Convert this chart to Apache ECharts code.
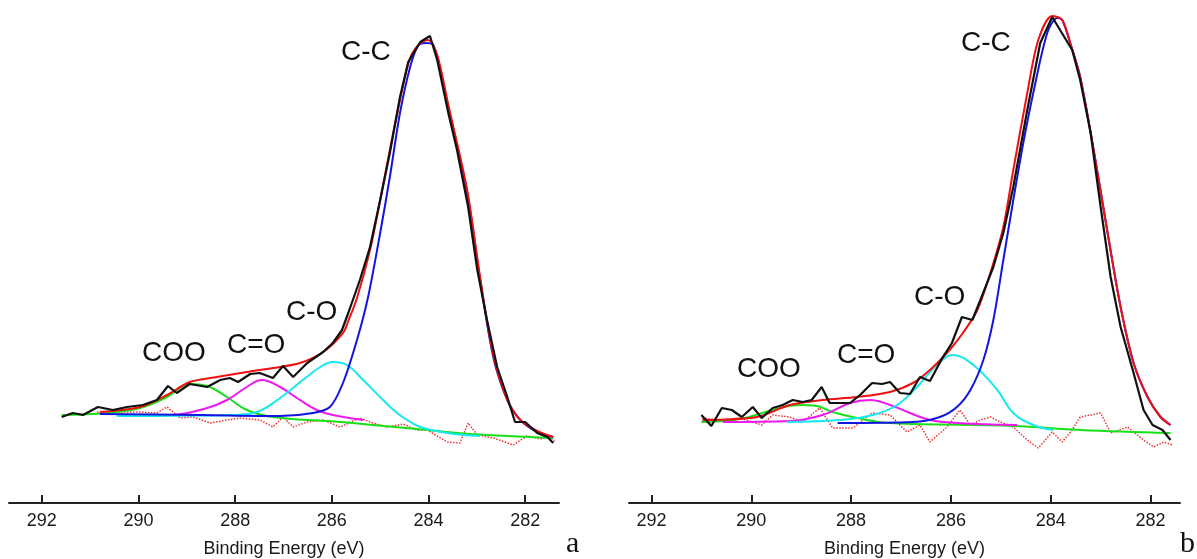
<!DOCTYPE html>
<html>
<head>
<meta charset="utf-8">
<script src="https://cdn.jsdelivr.net/npm/echarts@6/dist/echarts.min.js"></script>
<style>
  html, body { margin: 0; padding: 0; background: #fff; }
  #chart { width: 1197px; height: 559px; }
</style>
</head>
<body>
<div id="chart"></div>
<script>
// binding energy (eV), intensity (arb. units)
var tickValues = [282, 284, 286, 288, 290, 292];

// ---- panel a ----
var rawA = [[291.59,86],[291.36,90],[291.15,88],[290.84,96],[290.53,93],[290.24,96],[289.91,98],[289.62,103],[289.39,117],[289.21,110],[288.94,119],[288.58,116],[288.31,123],[288.11,125],[287.94,121],[287.69,129],[287.49,130],[287.22,125],[287.01,137],[286.80,126],[286.51,140],[286.18,151],[285.98,160],[285.79,173],[285.66,190],[285.42,223],[285.21,256],[285.00,303],[284.80,350],[284.59,406],[284.42,441],[284.17,461],[283.97,467],[283.82,443],[283.59,390],[283.41,353],[283.18,296],[282.99,233],[282.79,183],[282.58,136],[282.37,106],[282.21,81],[282.00,81],[281.75,70],[281.54,66],[281.42,60]];
var envA = [[290.80,91],[289.97,96],[289.41,108],[288.94,121],[288.38,126],[287.76,131],[287.22,135],[286.66,140],[286.18,151],[285.77,170],[285.66,182],[285.48,205],[285.21,253],[285.00,303],[284.80,353],[284.59,403],[284.38,445],[284.17,460],[284.01,463],[283.82,448],[283.59,398],[283.20,313],[282.93,225],[282.66,148],[282.37,103],[282.10,83],[281.75,72],[281.42,66]];
var ccA = [[290.80,89],[288.73,88],[287.07,87],[286.39,90],[286.04,96],[285.77,120],[285.48,163],[285.25,206],[285.00,270],[284.80,326],[284.59,390],[284.38,436],[284.22,457],[284.07,460],[283.90,458],[283.61,400],[283.20,310],[282.93,223],[282.66,146],[282.37,103],[282.10,83],[281.75,71],[281.42,66]];
var coA = [[290.45,87],[288.05,88],[287.55,91],[287.07,105],[286.60,123],[286.24,136],[285.98,141],[285.69,138],[285.35,123],[284.94,103],[284.65,90],[284.44,83],[284.17,76],[283.61,70],[282.93,67]];
var c2oA = [[290.24,87],[289.29,88],[288.58,95],[288.17,103],[287.76,116],[287.45,123],[287.07,116],[286.66,103],[286.31,93],[285.98,88],[285.35,83]];
var cooA = [[291.59,88],[290.65,90],[289.97,95],[289.41,106],[288.94,119],[288.58,117],[288.17,106],[287.76,93],[287.22,86],[285.83,81],[285.15,78],[284.24,74],[283.14,69],[281.42,65]];
var resA = [[290.86,91],[289.97,91],[289.62,90],[289.41,96],[289.14,85],[288.87,86],[288.52,80],[288.17,83],[287.90,85],[287.49,83],[287.22,76],[287.01,86],[286.80,76],[286.51,81],[286.18,83],[285.83,76],[285.42,85],[285.15,80],[284.86,76],[284.53,79],[284.24,73],[284.03,73],[283.61,61],[283.35,60],[283.18,80],[282.99,68],[282.66,65],[282.25,58],[281.96,67],[281.69,64],[281.48,66],[281.38,61]];

// ---- panel b ----
var rawB = [[291.00,88],[290.80,77],[290.59,95],[290.39,93],[290.19,86],[289.97,96],[289.79,85],[289.57,95],[289.37,98],[289.17,103],[288.97,101],[288.79,103],[288.59,116],[288.43,100],[288.02,100],[287.82,108],[287.58,120],[287.38,119],[287.22,121],[287.02,110],[286.82,109],[286.62,126],[286.42,122],[286.16,146],[285.98,160],[285.78,186],[285.57,183],[285.41,203],[285.15,236],[284.95,270],[284.75,316],[284.47,393],[284.21,460],[283.97,486],[283.57,453],[283.41,423],[283.20,370],[283.00,296],[282.80,226],[282.60,176],[282.34,130],[282.14,93],[281.96,78],[281.76,73],[281.60,63]];
var envB = [[290.98,83],[289.89,86],[289.23,98],[288.57,103],[287.88,106],[287.22,111],[286.76,120],[286.42,133],[286.08,150],[285.76,170],[285.47,193],[285.21,230],[284.95,276],[284.75,333],[284.47,410],[284.25,463],[283.97,487],[283.77,483],[283.61,460],[283.41,426],[283.14,353],[282.86,270],[282.60,196],[282.34,140],[282.06,106],[281.80,86],[281.60,78]];
var ccB = [[288.27,80],[286.76,81],[286.22,86],[285.88,96],[285.61,113],[285.35,143],[285.15,183],[284.95,243],[284.75,303],[284.55,360],[284.35,410],[284.07,470],[283.87,485],[283.77,483],[283.61,460],[283.41,426],[283.14,353],[282.86,270],[282.60,196],[282.34,140],[282.06,106],[281.80,86],[281.60,78]];
var coB = [[289.29,81],[288.22,83],[287.56,88],[287.08,98],[286.68,116],[286.28,138],[285.96,148],[285.55,138],[285.07,113],[284.75,90],[284.35,78],[283.95,73]];
var c2oB = [[290.57,81],[289.23,82],[288.57,88],[288.02,100],[287.62,103],[287.22,98],[286.82,90],[286.42,83],[285.88,80],[284.67,78]];
var cooB = [[291.00,81],[290.23,84],[289.57,93],[289.03,98],[288.69,97],[288.37,91],[287.88,85],[287.22,80],[284.75,77],[283.41,73],[281.60,70]];
var resB = [[290.98,85],[290.63,83],[290.23,85],[289.79,78],[289.57,88],[289.23,86],[288.97,81],[288.63,95],[288.37,75],[287.96,75],[287.58,90],[287.22,88],[286.88,71],[286.62,78],[286.42,61],[286.08,76],[285.82,93],[285.61,78],[285.41,83],[285.21,86],[285.01,81],[284.75,76],[284.47,63],[284.25,55],[283.97,71],[283.77,61],[283.57,73],[283.41,86],[283.00,90],[282.80,70],[282.46,76],[282.14,63],[281.94,56],[281.74,61],[281.56,58]];

var FONT = '"Liberation Sans", Arial, sans-serif';

function xAxisFor(idx, min, max) {
    return {
        type: 'value',
        gridIndex: idx,
        inverse: true,
        min: min,
        max: max,
        name: 'Binding Energy (eV)',
        nameLocation: 'middle',
        nameGap: 37,
        nameTextStyle: { fontFamily: FONT, fontSize: 18, color: '#1a1a1a' },
        axisLine: { show: true, lineStyle: { color: '#222', width: 2 } },
        axisTick: { show: true, inside: true, length: 8, customValues: tickValues, lineStyle: { color: '#222', width: 2 } },
        axisLabel: { customValues: tickValues, fontFamily: FONT, fontSize: 18, color: '#1a1a1a', margin: 9 },
        splitLine: { show: false }
    };
}

function yAxisFor(idx) {
    return { type: 'value', gridIndex: idx, min: 0, max: 503, show: false };
}

function line(name, data, idx, color, width, smooth, dotted) {
    return {
        name: name,
        type: 'line',
        xAxisIndex: idx,
        yAxisIndex: idx,
        data: data,
        symbol: 'none',
        smooth: smooth,
        lineStyle: { color: color, width: width, type: dotted ? 'dotted' : 'solid' },
        z: 2
    };
}

function panelSeries(idx, raw, env, cc, co, c2o, coo, res) {
    return [
        line('residual', res, idx, '#f03030', 1.5, false, true),
        line('COO', coo, idx, '#18e018', 2, 0.4),
        line('C=O', c2o, idx, '#f018f0', 2, 0.4),
        line('C-O', co, idx, '#18e8f0', 2, 0.4),
        line('C-C', cc, idx, '#1414e0', 2, 0.3),
        line('envelope', env, idx, '#f01010', 2, 0.3),
        line('raw', raw, idx, '#111111', 2.2, false)
    ];
}

function label(text, x, y, size, family) {
    return {
        type: 'text',
        left: x,
        top: y,
        style: { text: text, fontFamily: family || FONT, fontSize: size || 28, fill: '#111' }
    };
}

var option = {
    animation: false,
    backgroundColor: '#fff',
    grid: [
        { left: 9, top: 0, width: 550, height: 503, outerBoundsMode: 'none', containLabel: false },
        { left: 629, top: 0, width: 551, height: 503, outerBoundsMode: 'none', containLabel: false }
    ],
    xAxis: [xAxisFor(0, 281.3, 292.68), xAxisFor(1, 281.41, 292.45)],
    yAxis: [yAxisFor(0), yAxisFor(1)],
    series: panelSeries(0, rawA, envA, ccA, coA, c2oA, cooA, resA)
        .concat(panelSeries(1, rawB, envB, ccB, coB, c2oB, cooB, resB)),
    graphic: [
        label('C-C', 341, 38),
        label('C-O', 286, 298),
        label('C=O', 227, 331),
        label('COO', 142, 339),
        label('C-C', 961, 29),
        label('C-O', 914, 283),
        label('C=O', 837, 341),
        label('COO', 737, 355),
        label('a', 566, 529, 30, '"Liberation Serif", "Times New Roman", serif'),
        label('b', 1180, 529, 30, '"Liberation Serif", "Times New Roman", serif')
    ]
};

var myChart = echarts.init(document.getElementById('chart'));
myChart.setOption(option);
</script>
</body>
</html>
